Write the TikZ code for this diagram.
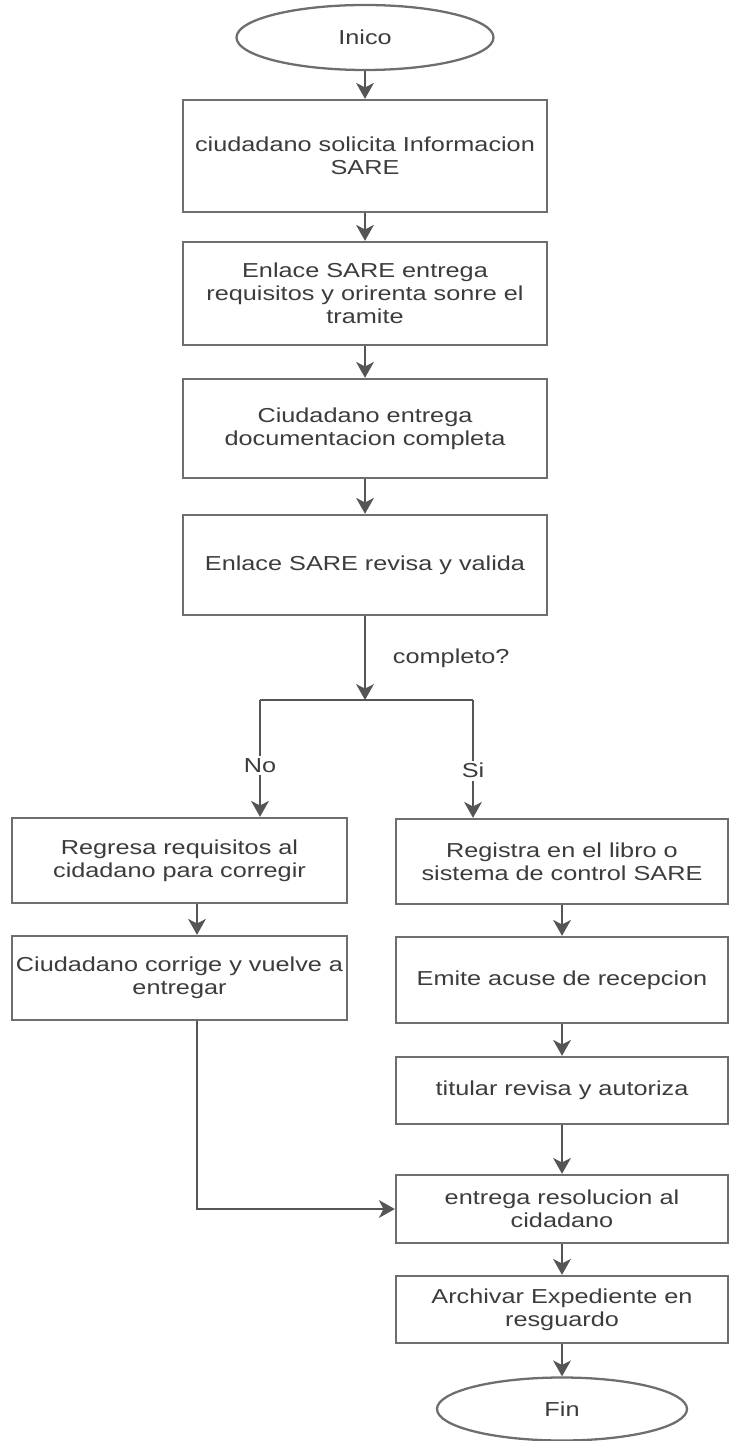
\documentclass[tikz,border=0pt]{standalone}
\usepackage{fontspec}
\setmainfont{Liberation Sans}[FakeStretch=1.25]
\usepackage{xcolor}
\usepackage{tikz}
\definecolor{sarelinea}{RGB}{85, 85, 85}
\definecolor{sareborde}{RGB}{110, 110, 110}
\definecolor{saretexto}{RGB}{60, 60, 60}
\usetikzlibrary{arrows.meta,positioning,shapes.geometric,calc}

\begin{document}
\begin{tikzpicture}[
    paso/.style={rectangle, draw=sareborde, line width=1.3pt, fill=white, align=center, text=saretexto, font=\fontsize{11.5}{13}\selectfont, inner sep=2pt},
    terminal/.style={ellipse, draw=sareborde, line width=1.3pt, fill=white, text=saretexto, font=\fontsize{11.5}{13}\selectfont, inner sep=0pt},
    flecha/.style={draw=sarelinea, line width=1.4pt, -{Stealth[length=9pt, width=10pt, inset=2.5pt]}},
    linea/.style={draw=sarelinea, line width=1.4pt},
    etiqueta/.style={fill=white, text=saretexto, font=\fontsize{11.5}{13}\selectfont, inner sep=1.5pt}
]
    \useasboundingbox (0, 0) rectangle (14.6, -28.82);

    % Inicio
    \node[terminal, minimum width=5.14cm, minimum height=1.3cm] (inicio) at (7.3, -0.75) {Inico};

    % Tramite comun
    \node[paso, minimum width=7.28cm, minimum height=2.24cm]
        (solicita) at (7.3, -3.12) {ciudadano solicita Informacion\\SARE};
    \node[paso, minimum width=7.28cm, minimum height=2.06cm]
        (orienta) at (7.3, -5.87) {Enlace SARE entrega\\requisitos y orirenta sonre el\\tramite};
    \node[paso, minimum width=7.28cm, minimum height=1.98cm]
        (documenta) at (7.3, -8.57) {Ciudadano entrega\\documentacion completa};
    \node[paso, minimum width=7.28cm, minimum height=2.0cm]
        (valida) at (7.3, -11.3) {Enlace SARE revisa y valida};

    \draw[flecha] (inicio) -- (solicita);
    \draw[flecha] (solicita) -- (orienta);
    \draw[flecha] (orienta) -- (documenta);
    \draw[flecha] (documenta) -- (valida);

    % Decision
    \coordinate (split) at (7.3, -14.0);
    \coordinate (ramaNo) at (5.2, -14.0);
    \coordinate (ramaSi) at (9.46, -14.0);
    \draw[flecha] (valida) -- (split);
    \node[etiqueta, anchor=west] (completo) at (7.8, -13.16) {completo?};
    \draw[linea] (ramaNo) -- (ramaSi);

    % Rama No
    \node[paso, minimum width=6.7cm, minimum height=1.7cm]
        (regresa) at (3.59, -17.21) {Regresa requisitos al\\cidadano para corregir};
    \node[paso, minimum width=6.7cm, minimum height=1.68cm]
        (corrige) at (3.59, -19.56) {Ciudadano corrige y vuelve a\\entregar};

    % Rama Si
    \node[paso, minimum width=6.64cm, minimum height=1.7cm]
        (registra) at (11.24, -17.23) {Registra en el libro o\\sistema de control SARE};
    \node[paso, minimum width=6.64cm, minimum height=1.72cm]
        (acuse) at (11.24, -19.6) {Emite acuse de recepcion};
    \node[paso, minimum width=6.64cm, minimum height=1.34cm]
        (autoriza) at (11.24, -21.81) {titular revisa y autoriza};
    \node[paso, minimum width=6.64cm, minimum height=1.36cm]
        (resolucion) at (11.24, -24.18) {entrega resolucion al\\cidadano};
    \node[paso, minimum width=6.64cm, minimum height=1.34cm]
        (archiva) at (11.24, -26.19) {Archivar Expediente en\\resguardo};

    % Fin
    \node[terminal, minimum width=5.0cm, minimum height=1.26cm] (fin) at (11.24, -28.18) {Fin};

    % Flujo
    \draw[flecha] (ramaNo) -- node[etiqueta, pos=0.56] {No} (ramaNo |- regresa.north);
    \draw[flecha] (ramaSi) -- node[etiqueta, pos=0.6] {Si} (ramaSi |- registra.north);
    \draw[flecha] ([xshift=0.35cm]regresa.south) -- ([xshift=0.35cm]corrige.north);
    \draw[flecha] ([xshift=0.35cm]corrige.south) |- (resolucion.west);
    \draw[flecha] (registra) -- (acuse);
    \draw[flecha] (acuse) -- (autoriza);
    \draw[flecha] (autoriza) -- (resolucion);
    \draw[flecha] (resolucion) -- (archiva);
    \draw[flecha] (archiva) -- (fin);
\end{tikzpicture}
\end{document}
